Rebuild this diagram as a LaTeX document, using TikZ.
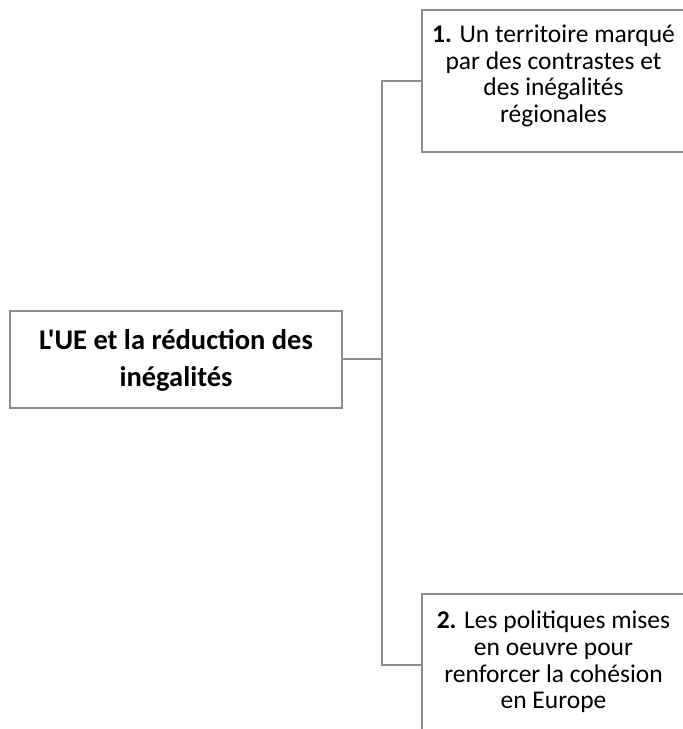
\documentclass[tikz,border=0pt]{standalone}
\usepackage{fontspec}
\newfontfamily\calib{Carlito}
\definecolor{linegray}{RGB}{140,140,140}
\tikzset{
  box/.style={draw=linegray, line width=2pt, fill=white, inner sep=0pt},
  conn/.style={draw=linegray, line width=2pt},
  subtext/.style={align=center, inner sep=0pt, font=\calib\fontsize{25.5}{26.7}\selectfont},
  maintext/.style={align=center, inner sep=0pt, font=\calib\fontsize{28.5}{37}\selectfont\bfseries}
}
\begin{document}
\begin{tikzpicture}[x=1pt,y=1pt]
\useasboundingbox (0,0) rectangle (683,729);
\clip (0,0) rectangle (683,729);
\node[box, minimum width=332pt, minimum height=97pt] (main) at (176,369.5) {};
\node[maintext] (maint) at (176,369) {L'UE et la réduction des\\inégalités};
\node[box, minimum width=263pt, minimum height=142pt] (b1) at (553.5,648) {};
\node[subtext] (b1t) at (553.5,653) {\textbf{1.} Un territoire marqué\\par des contrastes et\\des inégalités\\régionales};
\node[box, minimum width=263pt, minimum height=142pt] (b2) at (553.5,64) {};
\node[subtext] (b2t) at (553.5,67) {\textbf{2.} Les politiques mises\\en oeuvre pour\\renforcer la cohésion\\en Europe};
\coordinate (j) at (382,369.5);
\draw[conn] (main.east) -- (j);
\draw[conn] (j) |- (b1.west);
\draw[conn] (j) |- (b2.west);
\end{tikzpicture}
\end{document}
